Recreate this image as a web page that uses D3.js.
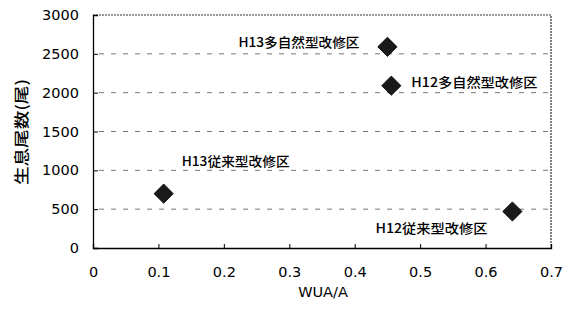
<!DOCTYPE html>
<html><head><meta charset="utf-8">
<script src="https://cdn.jsdelivr.net/npm/d3@7"></script>
<style>
html,body{margin:0;padding:0;background:#fff;}
svg{display:block;}
</style></head>
<body>
<svg id="chart" width="569" height="313"></svg>
<script>
// ---- data ----
const pointNames = ["H13多自然型改修区", "H12多自然型改修区", "H13従来型改修区", "H12従来型改修区"];
const wuaA = [0.450, 0.456, 0.108, 0.641];
const fishCount = [2590, 2090, 700, 470];
const xTicks = [0, 0.1, 0.2, 0.3, 0.4, 0.5, 0.6, 0.7];
const yTicks = [0, 500, 1000, 1500, 2000, 2500, 3000];
const xTitle = "WUA/A";
const yTitle = "生息尾数(尾)";

// ---- layout (not data) ----
const labelLayout = [
  {dx: -28, dy: -5, anchor: "end", len: 121},
  {dx: 20, dy: -4, anchor: "start", len: 126},
  {dx: 18, dy: -33, anchor: "start", len: 108},
  {dx: -25, dy: 16, anchor: "end", len: 112}
];

const svg = d3.select("#chart");
const L = 93, R = 551, T = 15, B = 248;
const x = d3.scaleLinear().domain([0, 0.7]).range([L, R]);
const y = d3.scaleLinear().domain([0, 3000]).range([B, T]);
const numFont = "'DejaVu Sans', sans-serif";
const jpFont = "'Noto Sans CJK JP', sans-serif";

// gridlines
svg.append("g").selectAll("line")
  .data(yTicks.filter(d => d > 0 && d < 3000))
  .join("line")
  .attr("x1", L + 6).attr("x2", R - 2)
  .attr("y1", d => y(d)).attr("y2", d => y(d))
  .attr("stroke", "#777").attr("stroke-width", 1)
  .attr("stroke-dasharray", "5,7");

// top and right frame (thin dotted)
svg.append("path")
  .attr("d", `M${L},${T}H${R}V${B}`)
  .attr("fill", "none").attr("stroke", "#333")
  .attr("stroke-width", 1.2).attr("stroke-dasharray", "2,1");

// axes
const yAxis = d3.axisLeft(y).tickValues(yTicks).tickSize(-5).tickFormat(d3.format("d")).tickPadding(14);
const gy = svg.append("g").attr("transform", `translate(${L},0)`).call(yAxis);
const xAxis = d3.axisBottom(x).tickValues(xTicks).tickSize(-4).tickFormat(d => d === 0 ? "0" : d3.format(".1f")(d)).tickPadding(19);
const gx = svg.append("g").attr("transform", `translate(0,${B})`).call(xAxis);
[gy, gx].forEach(g => {
  g.select(".domain").attr("stroke", "#000").attr("stroke-width", 1.3);
  g.selectAll(".tick line").attr("stroke", "#000").attr("stroke-width", 1);
  g.selectAll(".tick text").attr("font-family", numFont).attr("font-size", 14.5).attr("fill", "#000");
});
gx.selectAll(".tick").filter(d => d === 0 || d === 0.7).select("line").remove();
gy.selectAll(".tick").filter(d => d === 0 || d === 3000).select("line").remove();

// axis titles
svg.append("text").text(xTitle)
  .attr("x", 323).attr("y", 292).attr("text-anchor", "middle").attr("dominant-baseline", "central")
  .attr("font-family", numFont).attr("font-size", 14.5).attr("fill", "#000");
svg.append("text").text(yTitle)
  .attr("transform", "translate(20,132) rotate(-90)")
  .attr("text-anchor", "middle").attr("dominant-baseline", "central")
  .attr("font-family", jpFont).attr("font-size", 15).attr("font-weight", "500")
  .attr("textLength", 106).attr("lengthAdjust", "spacingAndGlyphs").attr("fill", "#000");

// markers
const pts = pointNames.map((n, i) => ({name: n, x: wuaA[i], y: fishCount[i], lay: labelLayout[i]}));
svg.append("g").selectAll("path")
  .data(pts).join("path")
  .attr("d", d3.symbol().type(d3.symbolSquare).size(185))
  .attr("transform", d => `translate(${x(d.x)},${y(d.y)}) rotate(45)`)
  .attr("fill", "#1a1a1a").attr("stroke", "#000").attr("stroke-width", 0.8);

// labels
svg.append("g").selectAll("text")
  .data(pts).join("text")
  .text(d => d.name)
  .attr("x", d => x(d.x) + d.lay.dx)
  .attr("y", d => y(d.y) + d.lay.dy)
  .attr("text-anchor", d => d.lay.anchor)
  .attr("dominant-baseline", "central")
  .attr("textLength", d => d.lay.len).attr("lengthAdjust", "spacingAndGlyphs")
  .attr("font-family", jpFont).attr("font-size", 13).attr("font-weight", "500").attr("fill", "#000");
</script>
</body></html>
